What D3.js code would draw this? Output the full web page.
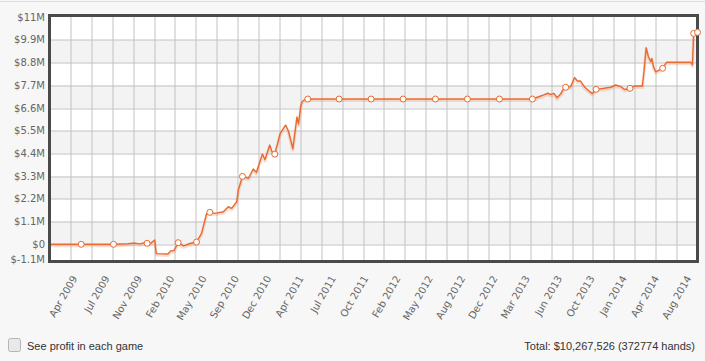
<!DOCTYPE html>
<html>
<head>
<meta charset="utf-8">
<script src="https://cdn.jsdelivr.net/npm/d3@7"></script>
<style>
  body { margin: 0; background: #f7f7f7; }
  svg { display: block; }
</style>
</head>
<body>
<div id="chart"></div>
<script>
// cumulative profit in $M
var dates = [
  "2009-02-07", "2009-05-18", "2009-08-28", "2009-10-12", "2009-11-03", "2009-11-19",
  "2009-12-02", "2009-12-12", "2009-12-21", "2010-01-05", "2010-01-10", "2010-02-16",
  "2010-02-24", "2010-03-07", "2010-03-20", "2010-04-07", "2010-04-26", "2010-05-17",
  "2010-06-02", "2010-06-18", "2010-06-28", "2010-07-14", "2010-08-10", "2010-08-25",
  "2010-09-05", "2010-09-21", "2010-09-26", "2010-10-09", "2010-10-28", "2010-11-12",
  "2010-11-22", "2010-12-11", "2010-12-19", "2011-01-03", "2011-01-10", "2011-01-19",
  "2011-02-05", "2011-02-22", "2011-03-03", "2011-03-17", "2011-03-30", "2011-04-04",
  "2011-04-11", "2011-04-15", "2011-04-23", "2011-05-03", "2011-08-10", "2011-11-19",
  "2012-02-28", "2012-06-09", "2012-09-18", "2012-12-28", "2013-04-11", "2013-05-01",
  "2013-05-17", "2013-05-29", "2013-06-07", "2013-06-18", "2013-06-28", "2013-07-09",
  "2013-07-19", "2013-07-25", "2013-08-10", "2013-08-22", "2013-08-31", "2013-09-10",
  "2013-09-23", "2013-10-03", "2013-10-17", "2013-10-29", "2013-11-23", "2013-12-14",
  "2013-12-30", "2014-01-15", "2014-01-27", "2014-02-13", "2014-02-26", "2014-03-24",
  "2014-03-29", "2014-04-05", "2014-04-12", "2014-04-20", "2014-04-23", "2014-04-28",
  "2014-05-05", "2014-05-27", "2014-06-08", "2014-08-24", "2014-08-29", "2014-09-02",
  "2014-09-14"
];
var profit = [
  0, 0, 0, 0.03, 0.06, 0.02,
  0.07, 0.05, 0.02, 0.21, -0.45, -0.47,
  -0.32, -0.30, 0.08, -0.08, 0.04, 0.11,
  0.53, 1.50, 1.55, 1.50, 1.58, 1.82,
  1.74, 2.06, 2.63, 3.29, 3.20, 3.65,
  3.48, 4.38, 4.10, 4.81, 4.49, 4.37,
  5.37, 5.78, 5.49, 4.63, 6.17, 5.83,
  6.70, 6.91, 7.00, 7.04, 7.04, 7.04,
  7.04, 7.04, 7.04, 7.04, 7.04, 7.15,
  7.24, 7.32, 7.26, 7.31, 7.10, 7.28,
  7.56, 7.61, 7.64, 8.08, 7.91, 7.91,
  7.62, 7.48, 7.30, 7.51, 7.56, 7.61,
  7.72, 7.64, 7.50, 7.56, 7.67, 7.67,
  8.35, 9.53, 9.09, 8.85, 9.01, 8.61,
  8.36, 8.53, 8.82, 8.82, 8.69, 10.22,
  10.27
];
// 1 = point drawn with a circle marker
var marked = [
  0, 1, 1, 0, 0, 0,
  0, 1, 0, 0, 0, 0,
  0, 0, 1, 0, 0, 1,
  0, 0, 1, 0, 0, 0,
  0, 0, 0, 1, 0, 0,
  0, 0, 0, 0, 0, 1,
  0, 0, 0, 0, 0, 0,
  0, 0, 0, 1, 1, 1,
  1, 1, 1, 1, 1, 0,
  0, 0, 0, 0, 0, 0,
  0, 1, 0, 0, 0, 0,
  0, 0, 0, 1, 0, 0,
  0, 0, 0, 1, 0, 0,
  0, 0, 0, 0, 0, 0,
  0, 1, 0, 0, 0, 1,
  1
];

var yTicks = [11, 9.9, 8.8, 7.7, 6.6, 5.5, 4.4, 3.3, 2.2, 1.1, 0, -1.1];
var yLabels = ["$11M", "$9.9M", "$8.8M", "$7.7M", "$6.6M", "$5.5M", "$4.4M",
               "$3.3M", "$2.2M", "$1.1M", "$0", "$-1.1M"];
var xTickDates = [
  "2009-04-18", "2009-07-29", "2009-11-08", "2010-02-18", "2010-05-31",
  "2010-09-10", "2010-12-21", "2011-04-02", "2011-07-13", "2011-10-23",
  "2012-02-02", "2012-05-14", "2012-08-24", "2012-12-04", "2013-03-16",
  "2013-06-26", "2013-10-06", "2014-01-16", "2014-04-28", "2014-08-08"
];
var xDomain = ["2009-02-07", "2014-09-14"];
var yDomain = [-0.833, 11.087];
var totalText = "Total: $10,267,526 (372774 hands)";
var checkText = "See profit in each game";

var parse = d3.utcParse("%Y-%m-%d");
var fmt = d3.utcFormat("%b %Y");

var W = 705, H = 361;
var margin = {top: 15.5, right: 7.5, bottom: 99.5, left: 49.5};
var pw = W - margin.left - margin.right,
    ph = H - margin.top - margin.bottom;

var svg = d3.select("#chart").append("svg").attr("width", W).attr("height", H);

// thin rule across the top of the page
svg.append("line").attr("x1", 0).attr("x2", W).attr("y1", 1.5).attr("y2", 1.5)
  .attr("stroke", "#dcdcdc");

var g = svg.append("g").attr("transform", "translate(" + margin.left + "," + margin.top + ")");

var x = d3.scaleUtc().domain(xDomain.map(parse)).range([0, pw]);
var y = d3.scaleLinear().domain(yDomain).range([ph, 0]);

g.append("rect").attr("width", pw).attr("height", ph).attr("fill", "#fff");

// alternating bands
var asc = yTicks.slice().sort(function(a, b) { return a - b; });
var bands = [];
for (var i = 1; i < asc.length - 1; i += 2) bands.push([asc[i], asc[i + 1]]);
g.selectAll(".band").data(bands).enter().append("rect")
  .attr("x", 0).attr("width", pw)
  .attr("y", function(d) { return y(d[1]); })
  .attr("height", function(d) { return y(d[0]) - y(d[1]); })
  .attr("fill", "#f3f3f3");

// grid
var cols = d3.range(1, 31).map(function(i) { return i * pw / 31; });
g.selectAll(".vgrid").data(cols).enter().append("line")
  .attr("x1", function(d) { return Math.round(d) + 0.5; })
  .attr("x2", function(d) { return Math.round(d) + 0.5; })
  .attr("y1", 0).attr("y2", ph)
  .attr("stroke", "#c2c2c2");
g.selectAll(".hgrid").data(yTicks.filter(function(v) { return y(v) > 2 && y(v) < ph - 2; }))
  .enter().append("line")
  .attr("x1", 0).attr("x2", pw)
  .attr("y1", function(d) { return Math.round(y(d)) + 0.5; })
  .attr("y2", function(d) { return Math.round(y(d)) + 0.5; })
  .attr("stroke", "#c2c2c2");

// y labels
svg.append("g").selectAll("text").data(yTicks).enter().append("text")
  .attr("x", 45)
  .attr("y", function(d) { return margin.top + Math.min(y(d), ph - 2.5); })
  .attr("dy", "0.35em")
  .attr("text-anchor", "end")
  .attr("font-family", "'DejaVu Sans', Verdana, sans-serif")
  .attr("font-size", 10)
  .attr("fill", "#666")
  .text(function(d, i) { return yLabels[i]; });

// x labels, rotated
svg.append("g").selectAll("text").data(xTickDates).enter().append("text")
  .attr("transform", function(d) {
    return "translate(" + (margin.left + x(parse(d)) + 3) + "," + (margin.top + ph + 15) + ") rotate(-60)";
  })
  .attr("dy", "0.35em")
  .attr("text-anchor", "end")
  .attr("font-family", "'DejaVu Sans', Verdana, sans-serif")
  .attr("font-size", 10)
  .attr("fill", "#666")
  .text(function(d) { return fmt(parse(d)); });

var points = dates.map(function(d, i) { return {date: parse(d), v: profit[i], m: marked[i]}; });

g.append("clipPath").attr("id", "clip").append("rect")
  .attr("x", 0).attr("y", 0).attr("width", pw).attr("height", ph);

var line = d3.line()
  .x(function(d) { return x(d.date); })
  .y(function(d) { return y(d.v); });

var plot = g.append("g").attr("clip-path", "url(#clip)");

plot.append("path").datum(points)
  .attr("d", line)
  .attr("transform", "translate(0,1.5)")
  .attr("fill", "none")
  .attr("stroke", "rgba(233,110,55,0.22)")
  .attr("stroke-width", 3)
  .attr("stroke-linejoin", "round");

plot.append("path").datum(points)
  .attr("d", line)
  .attr("fill", "none")
  .attr("stroke", "#e96b33")
  .attr("stroke-width", 1.4)
  .attr("stroke-linejoin", "round");

// frame
g.append("rect").attr("width", pw).attr("height", ph)
  .attr("fill", "none").attr("stroke", "#4a4a4a").attr("stroke-width", 3);

// markers sit on top of the frame
g.selectAll(".dot").data(points.filter(function(d) { return d.m; }))
  .enter().append("circle")
  .attr("cx", function(d) { return x(d.date); })
  .attr("cy", function(d) { return y(d.v); })
  .attr("r", 3)
  .attr("fill", "#fff")
  .attr("stroke", "#e96b33")
  .attr("stroke-width", 1);

// footer
svg.append("rect")
  .attr("x", 8.5).attr("y", 338.5).attr("width", 12).attr("height", 13).attr("rx", 2)
  .attr("fill", "#e9e9e9").attr("stroke", "#b5b5b5");

svg.append("text")
  .attr("x", 27).attr("y", 346).attr("dy", "0.35em")
  .attr("font-family", "'Liberation Sans', Arial, sans-serif")
  .attr("font-size", 11).attr("fill", "#333")
  .text(checkText);

svg.append("text")
  .attr("x", 695).attr("y", 346).attr("dy", "0.35em")
  .attr("text-anchor", "end")
  .attr("font-family", "'Liberation Sans', Arial, sans-serif")
  .attr("font-size", 11).attr("fill", "#333")
  .text(totalText);
</script>
</body>
</html>
